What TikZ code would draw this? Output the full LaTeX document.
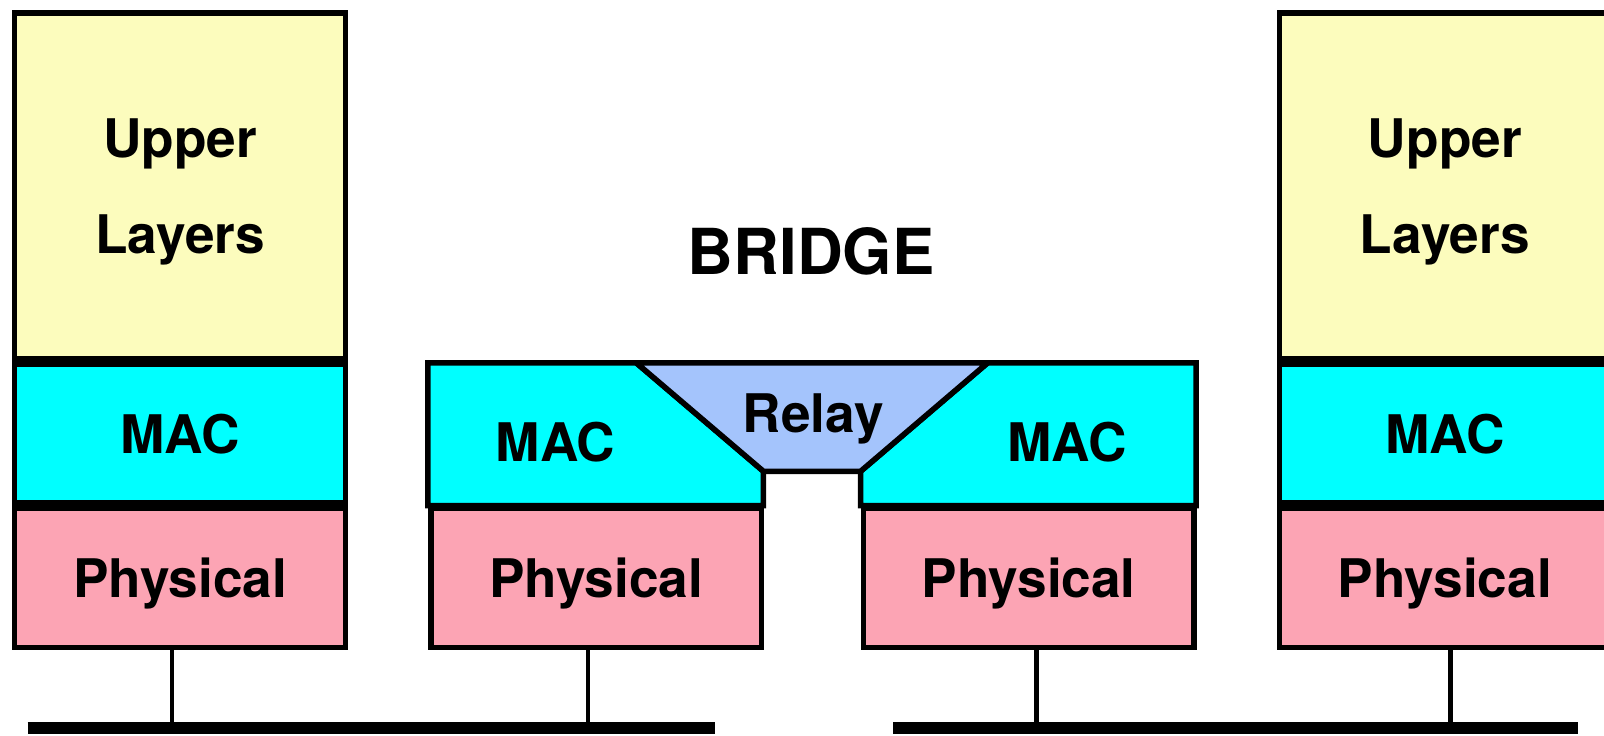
\documentclass[tikz,border=0pt]{standalone}
\usepackage{fontspec}
\setmainfont{TeX Gyre Heros}
\usetikzlibrary{positioning}
\definecolor{upperyellow}{RGB}{252,252,189}
\definecolor{maccyan}{RGB}{0,255,255}
\definecolor{phypink}{RGB}{252,164,180}
\definecolor{relayblue}{RGB}{164,196,252}

\begin{document}
\begin{tikzpicture}[x=0.5pt,y=-0.5pt,
  layer/.style={draw,line width=2.7pt,minimum width=161.7pt,inner sep=0pt,text depth=0pt,
    align=center,font=\fontsize{26}{47}\selectfont\bfseries},
  upper/.style={layer,fill=upperyellow,minimum height=169.15pt},
  mac/.style={layer,fill=maccyan,minimum height=67.8pt},
  phy/.style={layer,fill=phypink,minimum height=67.8pt},
  bmac/.style={line width=2.7pt,fill=maccyan},
  lbl/.style={inner sep=0pt,text depth=0pt,font=\fontsize{26}{30}\selectfont\bfseries},
  drop/.style={line width=2.2pt},
  lan/.style={line width=6pt}]
\useasboundingbox (0,0) rectangle (1568,719);

% end stations
\node[upper,anchor=north west] (upA) at (11.7,9.8) {Upper\\Layers};
\node[mac,below=0pt of upA] (macA) {MAC};
\node[phy,below=0pt of macA] (phyA) {Physical};

\node[upper,anchor=north west] (upB) at (1248,9.8) {Upper\\Layers};
\node[mac,below=0pt of upB] (macB) {MAC};
\node[phy,below=0pt of macB] (phyB) {Physical};

% bridge
\node[phy,anchor=north west] (phyBr1) at (418.4,494.5) {Physical};
\node[phy,anchor=north west] (phyBr2) at (841.2,494.5) {Physical};

\coordinate (relTL) at (622,354.7);
\coordinate (relTR) at (965.5,354.7);
\coordinate (relBL) at (746.3,460.7);
\coordinate (relBR) at (841.3,460.7);

\draw[bmac] (418.2,354.7) -- (relTL) -- (relBL) -- (746.3,494.3) -- (418.2,494.3) -- cycle;
\draw[bmac] (relTR) -- (1169.3,354.7) -- (1169.3,494.3) -- (841.3,494.3) -- (relBR) -- cycle;
\draw[line width=2.7pt,fill=relayblue] (relTL) -- (relTR) -- (relBR) -- (relBL) -- cycle;

\node[lbl] (relay) at (795,404) {Relay};
\node[lbl] (macBr1) at (543,432) {MAC};
\node[lbl] (macBr2) at (1043,432) {MAC};
\node[lbl,font=\fontsize{31}{36}\selectfont\bfseries] (bridge) at (793,245) {BRIDGE};

% LANs
\coordinate (lanA1) at (27,711.5);
\coordinate (lanA2) at (699,711.5);
\coordinate (lanB1) at (873,711.5);
\coordinate (lanB2) at (1543,711.5);
\draw[lan] (lanA1) -- (lanA2);
\draw[lan] (lanB1) -- (lanB2);

\coordinate (tapA) at (168,711.5);
\coordinate (tapBr1) at (575,711.5);
\coordinate (tapBr2) at (1013,711.5);
\coordinate (tapB) at (1418,711.5);
\draw[drop] (tapA |- phyA.south) -- (tapA);
\draw[drop] (tapBr1 |- phyBr1.south) -- (tapBr1);
\draw[drop] (tapBr2 |- phyBr2.south) -- (tapBr2);
\draw[drop] (tapB |- phyB.south) -- (tapB);
\end{tikzpicture}
\end{document}
